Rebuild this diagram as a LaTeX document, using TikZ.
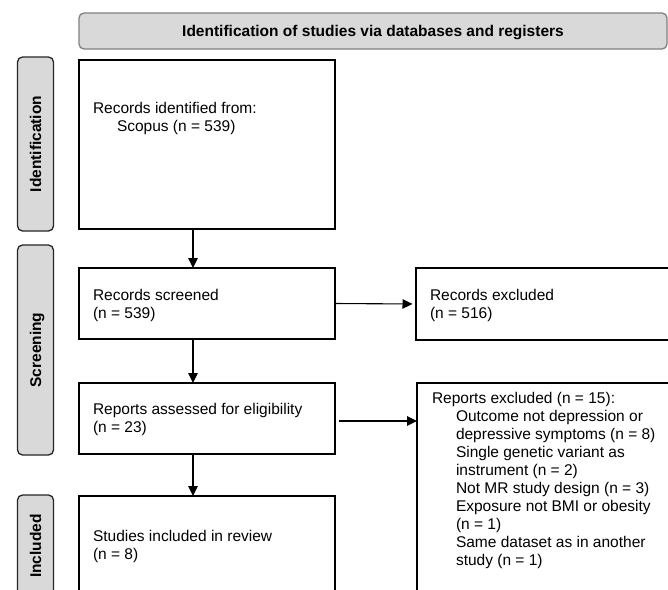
\documentclass[tikz,border=0pt]{standalone}
\usepackage{fontspec}
\setmainfont{Liberation Sans}
\usetikzlibrary{arrows.meta,calc}
\definecolor{panelgray}{HTML}{D9D9D9}
\definecolor{hdrline}{HTML}{808080}
\definecolor{sideline}{HTML}{262626}
\begin{document}
\begin{tikzpicture}[x=1pt,y=-1pt,
  every node/.style={font=\fontsize{15.5}{17.9}\selectfont, inner sep=0pt, outer sep=0pt},
  box/.style={draw=black, line width=1.5pt, fill=white, anchor=north west, minimum width=256pt},
  sidebox/.style={draw=sideline, line width=1.3pt, fill=panelgray, rounded corners=5pt, anchor=north west, minimum width=36pt},
  hdr/.style={draw=hdrline, line width=1.3pt, fill=panelgray, rounded corners=5pt, anchor=north west},
  txt/.style={anchor=base west, align=left},
  sidetxt/.style={font=\bfseries\fontsize{15.5}{17.9}\selectfont, rotate=90, text height=11pt, text depth=0pt},
  arr/.style={-{Triangle[length=10pt,width=9.5pt]}, line width=1.1pt}]
\useasboundingbox (0,0) rectangle (668,589);
\clip (0,0) rectangle (668,589);
\fill[white] (0,0) rectangle (668,589);
% header
\node[hdr, minimum width=588pt, minimum height=36pt, text height=11pt, text depth=0pt,
      font=\bfseries\fontsize{15.5}{17.9}\selectfont] (hdr) at (79,13)
  {Identification of studies via databases and registers};
% side panels
\node[sidebox, minimum height=174pt] (s1) at (17.5,57) {};
\node[sidetxt] (s1t) at (s1.center) {Identification};
\node[sidebox, minimum height=210pt] (s2) at (17.5,245) {};
\node[sidetxt] (s2t) at (s2.center) {Screening};
\node[sidebox, minimum height=102pt] (s3) at (17.5,495) {};
\node[sidetxt] (s3t) at (s3.center) {Included};
% boxes
\node[box, minimum height=169pt] (b1) at (79,60) {};
\node[box, minimum height=71pt] (b2) at (79,268) {};
\node[box, minimum height=71pt] (b3) at (79,383) {};
\node[box, minimum height=101pt] (b4) at (79,496) {};
\node[box, minimum height=72pt] (r1) at (416,268) {};
\node[box, minimum height=208pt] (r2) at (417,383) {};
% texts (anchor = baseline of the last line)
\node[txt] (t1) at (93,131) {Records identified from:\\\hspace*{24pt}Scopus (n = 539)};
\node[txt] (t2) at (93,318) {Records screened\\(n = 539)};
\node[txt] (t3) at (93,432) {Reports assessed for eligibility\\(n = 23)};
\node[txt] (t4) at (93,559) {Studies included in review\\(n = 8)};
\node[txt] (t5) at (430,318) {Records excluded\\(n = 516)};
\node[txt] (t6) at (432,565) {Reports excluded (n = 15):\\
  \hspace*{24pt}Outcome not depression or\\
  \hspace*{24pt}depressive symptoms (n = 8)\\
  \hspace*{24pt}Single genetic variant as\\
  \hspace*{24pt}instrument (n = 2)\\
  \hspace*{24pt}Not MR study design (n = 3)\\
  \hspace*{24pt}Exposure not BMI or obesity\\
  \hspace*{24pt}(n = 1)\\
  \hspace*{24pt}Same dataset as in another\\
  \hspace*{24pt}study (n = 1)};
% connectors
\draw[arr] ([xshift=-14pt]b1.south) -- ([xshift=-14pt]b2.north);
\draw[arr] ([xshift=-14pt]b2.south) -- ([xshift=-14pt]b3.north);
\draw[arr] ([xshift=-14pt]b3.south) -- ([xshift=-14pt]b4.north);
\draw[arr, shorten >=3.5pt] (b2.east) -- (r1.west);
\draw[arr] ([xshift=4pt,yshift=-2.5pt]b3.east) -- ([yshift=-2.5pt]b3.east -| r2.west);
\end{tikzpicture}
\end{document}
